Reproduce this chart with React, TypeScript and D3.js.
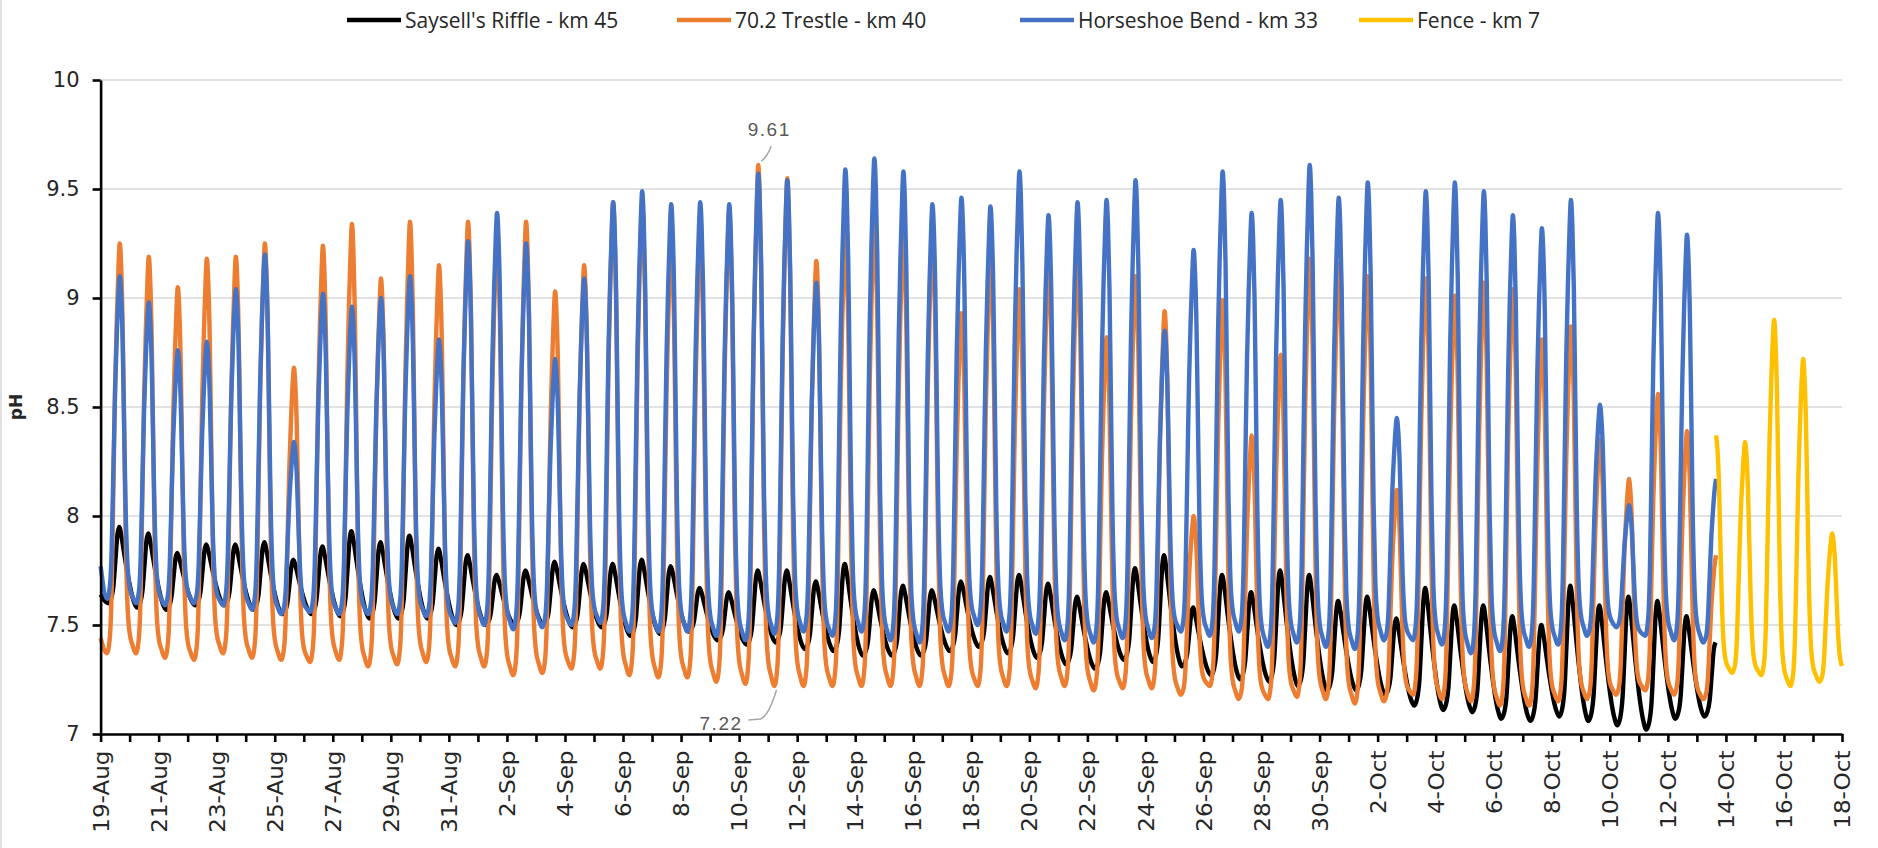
import React, { useEffect, useRef } from "react"
import * as d3 from "d3"

const startDate = new Date(2019, 7, 19)
const endDate = new Date(2019, 9, 18)

const seriesNames = ["Saysell's Riffle - km 45", "70.2 Trestle - km 40", "Horseshoe Bend - km 33", "Fence - km 7"]
const seriesColors = ["#000000", "#ED7D31", "#4472C4", "#FFC000"]

// afternoon peak pH for each day from 19-Aug (last value: reading where the logger stops on 13-Oct)
const sayPeak = [
  7.95, 7.92, 7.83, 7.87, 7.87, 7.88, 7.8, 7.86, 7.93, 7.88, 7.91, 7.85, 7.82, 7.73, 7.75,
  7.79, 7.78, 7.78, 7.8, 7.77, 7.67, 7.65, 7.75, 7.75, 7.7, 7.78, 7.66, 7.68, 7.66,
  7.7, 7.72, 7.73, 7.69, 7.63, 7.65, 7.76, 7.82, 7.58, 7.73, 7.65, 7.75, 7.73, 7.61, 7.63,
  7.53, 7.67, 7.59, 7.59, 7.54, 7.5, 7.68, 7.59, 7.63, 7.61, 7.54, 7.42,
]
const trePeak = [
  9.25, 9.19, 9.05, 9.18, 9.19, 9.25, 8.68, 9.24, 9.34, 9.09, 9.35, 9.15, 9.35, 9.3, 9.35,
  9.03, 9.15, 9.44, 9.44, 9.27, 9.3, 9.4, 9.61, 9.55, 9.17, 9.3, 9.36, 9.31, 9.3,
  8.93, 9.18, 9.04, 9.17, 9.2, 8.82, 9.1, 8.94, 8.0, 8.99, 8.37, 8.74, 9.18, 9.16, 9.1,
  8.12, 9.09, 9.01, 9.07, 9.04, 8.81, 8.87, 8.35, 8.17, 8.56, 8.39, 7.82,
]
const horPeak = [
  9.1, 8.98, 8.76, 8.8, 9.04, 9.2, 8.34, 9.02, 8.96, 9.0, 9.1, 8.81, 9.26, 9.39, 9.25,
  8.72, 9.09, 9.44, 9.49, 9.43, 9.44, 9.43, 9.57, 9.54, 9.07, 9.59, 9.64, 9.58, 9.43,
  9.46, 9.42, 9.58, 9.38, 9.44, 9.45, 9.54, 8.85, 9.22, 9.58, 9.39, 9.45, 9.61, 9.46, 9.53,
  8.45, 9.49, 9.53, 9.49, 9.38, 9.32, 9.45, 8.51, 8.05, 9.39, 9.29, 8.17,
]

// early-morning low pH for each day from 19-Aug
const sayLow = [
  7.6, 7.58, 7.57, 7.59, 7.59, 7.57, 7.55, 7.55, 7.54, 7.53, 7.53, 7.53, 7.5, 7.5, 7.5,
  7.5, 7.49, 7.49, 7.45, 7.46, 7.47, 7.43, 7.41, 7.42, 7.39, 7.38, 7.36, 7.36, 7.36,
  7.38, 7.4, 7.37, 7.35, 7.32, 7.3, 7.34, 7.33, 7.31, 7.27, 7.25, 7.24, 7.22, 7.2, 7.2,
  7.18, 7.13, 7.11, 7.1, 7.07, 7.06, 7.08, 7.06, 7.04, 7.02, 7.07, 7.08,
]
const treLow = [
  7.37, 7.37, 7.35, 7.34, 7.37, 7.35, 7.34, 7.33, 7.34, 7.31, 7.32, 7.33, 7.31, 7.31, 7.27,
  7.28, 7.3, 7.3, 7.27, 7.26, 7.26, 7.24, 7.23, 7.22, 7.22, 7.22, 7.22, 7.22, 7.22,
  7.22, 7.22, 7.22, 7.21, 7.22, 7.2, 7.21, 7.21, 7.18, 7.22, 7.16, 7.16, 7.17, 7.16, 7.14,
  7.15, 7.18, 7.16, 7.15, 7.13, 7.13, 7.15, 7.16, 7.18, 7.2, 7.18, 7.16,
]
const horLow = [
  7.62, 7.6, 7.59, 7.6, 7.59, 7.57, 7.55, 7.56, 7.55, 7.55, 7.55, 7.54, 7.51, 7.5, 7.48,
  7.49, 7.5, 7.51, 7.47, 7.47, 7.47, 7.45, 7.43, 7.46, 7.47, 7.45, 7.47, 7.43, 7.42,
  7.47, 7.5, 7.47, 7.46, 7.43, 7.42, 7.44, 7.44, 7.47, 7.45, 7.47, 7.4, 7.42, 7.4, 7.39,
  7.43, 7.43, 7.41, 7.37, 7.38, 7.4, 7.41, 7.45, 7.49, 7.45, 7.43, 7.42,
]
// first reading at midnight 19-Aug
const firstReading = [7.64, 7.44, 7.77]

// Fence logger, from 13-Oct
const fencePeak = [8.37, 8.34, 8.9, 8.72, 7.92]
const fenceLow = [8.0, 7.28, 7.27, 7.22, 7.24, 7.28]

const yTicks = [7, 7.5, 8, 8.5, 9, 9.5, 10]

// daily cycle shape: time of day (fraction) and share of the low-to-peak swing
const riseT = [0.22, 0.32, 0.38, 0.44, 0.5, 0.56, 0.62, 0.66]
const riseF = [0, 0.04, 0.15, 0.4, 0.65, 0.82, 0.95, 1]
const fallT = [0.66, 0.71, 0.76, 0.81, 0.86, 0.92, 1.0, 1.1]
const fallF = [1, 0.94, 0.8, 0.55, 0.3, 0.13, 0.05, 0.02]
// Saysell's is a slow-decay sawtooth
const sawRiseT = [0.26, 0.36, 0.44, 0.51, 0.58, 0.64]
const sawRiseF = [0, 0.06, 0.22, 0.56, 0.9, 1]
const sawFallT = [0.64, 0.72, 0.8, 0.88, 0.96, 1.05, 1.15]
const sawFallF = [1, 0.88, 0.7, 0.52, 0.36, 0.2, 0.07]

type Shape = { rT: number[]; rF: number[]; fT: number[]; fF: number[] }
const smooth: Shape = { rT: riseT, rF: riseF, fT: fallT, fF: fallF }
const saw: Shape = { rT: sawRiseT, rF: sawRiseF, fT: sawFallT, fF: sawFallF }

function trace(peaks: number[], lows: number[], day0: number, first: number | null, from: number, to: number, s: Shape) {
  const pts: [number, number][] = []
  if (first != null) pts.push([day0, first])
  peaks.forEach((p, i) => {
    const d = day0 + i
    const lo = lows[i]
    const next = lows[i + 1] ?? lo
    s.rT.forEach((t, k) => pts.push([d + t, lo + (p - lo) * s.rF[k]]))
    s.fT.forEach((t, k) => {
      if (k > 0) pts.push([d + t, next + (p - next) * s.fF[k]])
    })
  })
  return pts.filter(p => p[0] >= from && p[0] <= to)
}

export default function App() {
  const ref = useRef<SVGSVGElement>(null)

  useEffect(() => {
    const svg = d3.select(ref.current)
    svg.selectAll("*").remove()

    const margin = { top: 80, right: 36, bottom: 114, left: 100.6 }
    const W = 1878
    const H = 848

    const x = d3.scaleTime().domain([startDate, endDate]).range([margin.left, W - margin.right])
    const y = d3.scaleLinear().domain([7, 10]).range([H - margin.bottom, margin.top])
    const toDate = (t: number) => new Date(startDate.getTime() + t * 864e5)

    svg.append("line")
      .attr("x1", 1).attr("x2", 1).attr("y1", 0).attr("y2", H)
      .attr("stroke", "#d9d9d9").attr("stroke-width", 1.5)

    // gridlines
    svg.append("g")
      .selectAll("line")
      .data(yTicks.filter(d => d > 7))
      .join("line")
      .attr("x1", margin.left)
      .attr("x2", W - margin.right)
      .attr("y1", d => y(d))
      .attr("y2", d => y(d))
      .attr("stroke", "#d9d9d9")
      .attr("stroke-width", 1.5)

    const series = [
      trace(sayPeak, sayLow, 0, firstReading[0], 0, 55.67, saw),
      trace(trePeak, treLow, 0, firstReading[1], 0, 55.67, smooth),
      trace(horPeak, horLow, 0, firstReading[2], 0, 55.67, smooth),
      trace(fencePeak, fenceLow, 55, null, 55.65, 60.001, smooth),
    ]

    const line = d3.line<[number, number]>()
      .x(d => x(toDate(d[0])))
      .y(d => y(d[1]))
      .curve(d3.curveMonotoneX)

    svg.append("g")
      .attr("fill", "none")
      .attr("stroke-width", 4.4)
      .attr("stroke-linejoin", "round")
      .selectAll("path")
      .data(series)
      .join("path")
      .attr("stroke", (d, i) => seriesColors[i])
      .attr("d", d => line(d))

    // axes
    const dayTicks = d3.timeDay.range(startDate, d3.timeDay.offset(endDate, 1))
    const fmt = d3.timeFormat("%-d-%b")
    const xAxis = svg.append("g")
      .attr("transform", `translate(0,${H - margin.bottom})`)
      .call(
        d3.axisBottom(x)
          .tickValues(dayTicks)
          .tickSize(8)
          .tickSizeOuter(0)
          .tickFormat((d, i) => (i % 2 === 0 ? fmt(d as Date) : ""))
      )
    xAxis.selectAll("text")
      .attr("text-anchor", "end")
      .attr("transform", "rotate(-90) scale(1.1,1)")
      .attr("x", -15)
      .attr("y", 0)
      .attr("dy", "0.36em")
      .attr("font-family", "DejaVu Sans")
      .attr("font-size", 21)
      .attr("fill", "#262626")

    const yAxis = svg.append("g")
      .attr("transform", `translate(${margin.left},0)`)
      .call(d3.axisLeft(y).tickValues(yTicks).tickSize(8).tickSizeOuter(0).tickPadding(13).tickFormat(d3.format("")))
    yAxis.selectAll("text")
      .attr("font-family", "DejaVu Sans")
      .attr("font-size", 21)
      .attr("fill", "#262626")

    svg.selectAll(".domain, .tick line").attr("stroke", "#000").attr("stroke-width", 2.6)

    svg.append("text")
      .attr("transform", `translate(22,${y(8.5)}) rotate(-90)`)
      .attr("text-anchor", "middle")
      .attr("font-family", "DejaVu Sans")
      .attr("font-weight", "bold")
      .attr("font-size", 17)
      .attr("fill", "#262626")
      .text("pH")

    // data callouts on the 70.2 Trestle trace
    const hi = { t: 22 + 0.66, v: trePeak[22] }
    const lo = { t: 23 + 0.22, v: treLow[23] }
    const hx = x(toDate(hi.t)), hy = y(hi.v)
    const lx = x(toDate(lo.t)), ly = y(lo.v)
    const note = svg.append("g").attr("font-family", "Liberation Sans").attr("font-size", 19).attr("fill", "#595959")
    note.append("path")
      .attr("d", `M${hx + 3},${hy - 4} Q${hx + 9},${hy - 8} ${hx + 13},${hy - 19}`)
      .attr("fill", "none").attr("stroke", "#a6a6a6").attr("stroke-width", 1.5)
    note.append("text").attr("x", hx + 11).attr("y", hy - 29).attr("text-anchor", "middle").attr("letter-spacing", 1.5).text(d3.format(".2f")(hi.v))
    note.append("path")
      .attr("d", `M${lx + 2},${ly + 4} Q${lx - 6},${ly + 30} ${lx - 14},${ly + 33} L${lx - 26},${ly + 34}`)
      .attr("fill", "none").attr("stroke", "#a6a6a6").attr("stroke-width", 1.5)
    note.append("text").attr("x", lx - 32).attr("y", ly + 44).attr("text-anchor", "end").attr("letter-spacing", 1.5).text(d3.format(".2f")(lo.v))

    // legend
    const legendX = [347, 677, 1020, 1359]
    const legend = svg.append("g")
      .selectAll("g")
      .data(seriesNames)
      .join("g")
      .attr("transform", (d, i) => `translate(${legendX[i]},20)`)
    legend.append("line")
      .attr("x1", 0).attr("x2", 54)
      .attr("stroke", (d, i) => seriesColors[i])
      .attr("stroke-width", 4.5)
    legend.append("text")
      .attr("x", 58)
      .attr("dy", "0.36em")
      .attr("font-family", "Open Sans")
      .attr("font-size", 21)
      .attr("fill", "#262626")
      .text(d => d)
  }, [])

  return <svg ref={ref} width={1878} height={848} style={{ position: "absolute", left: 0, top: 0, background: "#fff" }} />
}
